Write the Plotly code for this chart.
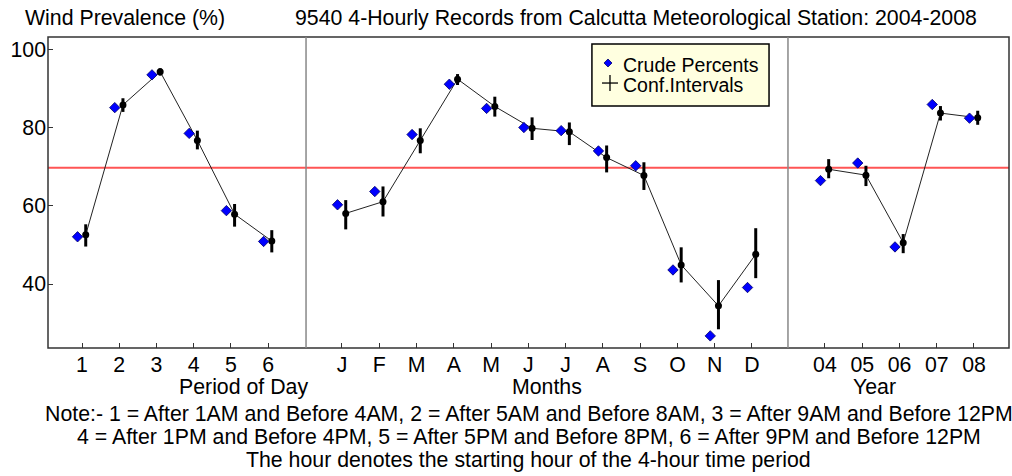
import plotly.graph_objects as go

# ---------------- data ----------------
period_labels = ["1", "2", "3", "4", "5", "6"]
period_crude = [52.1, 85.2, 93.6, 78.6, 58.8, 50.9]
period_ci_mid = [52.6, 85.9, 94.4, 76.8, 57.9, 51.0]
period_ci_lo = [49.6, 84.1, 93.4, 74.5, 54.7, 48.1]
period_ci_hi = [55.3, 87.6, 95.3, 79.3, 60.5, 53.8]

month_labels = ["J", "F", "M", "A", "M", "J", "J", "A", "S", "O", "N", "D"]
month_crude = [60.3, 63.7, 78.3, 91.2, 85.0, 80.1, 79.3, 74.1, 70.3, 43.6, 26.7, 39.1]
month_ci_mid = [58.1, 61.1, 76.8, 92.5, 85.5, 79.9, 79.0, 72.4, 67.8, 44.9, 34.4, 47.6]
month_ci_lo = [54.0, 57.3, 73.5, 91.0, 82.9, 76.9, 75.6, 68.6, 64.1, 40.4, 28.4, 41.5]
month_ci_hi = [61.5, 65.0, 79.9, 93.8, 88.0, 82.7, 81.4, 75.5, 71.2, 49.4, 41.0, 54.3]

year_labels = ["04", "05", "06", "07", "08"]
year_crude = [66.5, 71.0, 49.5, 86.0, 82.5]
year_ci_mid = [69.4, 67.9, 50.6, 83.8, 82.6]
year_ci_lo = [67.1, 65.1, 47.9, 81.9, 80.8]
year_ci_hi = [72.0, 70.3, 52.8, 85.6, 84.4]

overall_prevalence = 69.8

axis_titles = ["Period of Day", "Months", "Year"]
legend_labels = ["Crude Percents", "Conf.Intervals"]
title_left = "Wind Prevalence (%)"
title_main = "9540 4-Hourly Records from Calcutta Meteorological Station: 2004-2008"
note_lines = [
    "Note:- 1 = After 1AM and Before 4AM, 2 = After 5AM and Before 8AM, 3 = After 9AM and Before 12PM",
    "4 = After 1PM and Before 4PM, 5 = After 5PM and Before 8PM, 6 = After 9PM and Before 12PM",
    "The hour denotes the starting hour of the 4-hour time period",
]

# ---------------- styling ----------------
FONT = "Liberation Sans, Arial, sans-serif"
FS = 21.3
CRUDE_OFF = -0.12
CI_OFF = 0.10
BLUE = "#0000ff"

panels = [
    (period_labels, period_crude, period_ci_mid, period_ci_lo, period_ci_hi, "x", [0.086, 7.02], [0.0, 0.2685]),
    (month_labels, month_crude, month_ci_mid, month_ci_lo, month_ci_hi, "x2", [0.035, 12.965], [0.2685, 0.7700]),
    (year_labels, year_crude, year_ci_mid, year_ci_lo, year_ci_hi, "x3", [0.007, 5.94], [0.7700, 1.0]),
]

fig = go.Figure()

for labels, crude, mid, lo, hi, xref, rng, dom in panels:
    pos = list(range(1, len(labels) + 1))
    fig.add_trace(go.Scatter(
        x=rng, y=[overall_prevalence, overall_prevalence], xaxis=xref, yaxis="y",
        mode="lines", line=dict(color="#ff5555", width=2), showlegend=False, hoverinfo="skip"))
    fig.add_trace(go.Scatter(
        x=[p + CI_OFF for p in pos], y=mid, xaxis=xref, yaxis="y",
        mode="lines+markers",
        line=dict(color="#222222", width=1),
        marker=dict(color="black", size=7, symbol="circle"),
        error_y=dict(type="data", symmetric=False,
                     array=[h - m for h, m in zip(hi, mid)],
                     arrayminus=[m - l for m, l in zip(mid, lo)],
                     color="black", thickness=3, width=0),
        showlegend=False))
    fig.add_trace(go.Scatter(
        x=[p + CRUDE_OFF for p in pos], y=crude, xaxis=xref, yaxis="y",
        mode="markers",
        marker=dict(color=BLUE, size=8, symbol="diamond",
                    line=dict(color="#000066", width=0.8)),
        showlegend=False))

axis_common = dict(showgrid=False, zeroline=False, showline=False,
                   ticks="inside", ticklen=5, tickcolor="#333333", tickwidth=1,
                   tickfont=dict(family=FONT, size=FS, color="black"), fixedrange=True)

layout = dict(
    width=1012, height=476,
    margin=dict(l=48, r=3, t=37, b=128, autoexpand=False),
    paper_bgcolor="white", plot_bgcolor="white",
    font=dict(family=FONT, size=FS, color="black"),
    showlegend=False,
    yaxis=dict(range=[23.6, 103.3], tickvals=[40, 60, 80, 100], ticklabelstandoff=1, **axis_common),
)
for labels, crude, mid, lo, hi, xref, rng, dom in panels:
    key = "xaxis" if xref == "x" else "xaxis" + xref[1:]
    layout[key] = dict(domain=dom, range=rng, anchor="y",
                       tickvals=list(range(1, len(labels) + 1)), ticktext=labels,
                       ticklabelstandoff=2, **axis_common)
fig.update_layout(**layout)

# frame and panel dividers
fig.add_shape(type="rect", xref="paper", yref="paper", x0=0, y0=0, x1=1, y1=1,
              line=dict(color="#333333", width=1.5), layer="above")
for d in [panels[1][7][0], panels[2][7][0]]:
    fig.add_shape(type="line", xref="paper", yref="paper", x0=d, x1=d, y0=0, y1=1,
                  line=dict(color="#888888", width=1.5), layer="above")

# legend box (key)
fig.add_shape(type="rect", xref="paper", yref="paper", x0=0.566, x1=0.7503, y0=0.778, y1=0.9775,
              fillcolor="#ffffe0", line=dict(color="black", width=1.5), layer="above")
fig.add_shape(type="path", xref="paper", yref="paper", xsizemode="pixel", ysizemode="pixel",
              xanchor=0.5827, yanchor=0.9164, path="M 0 4 L 4 0 L 0 -4 L -4 0 Z",
              fillcolor=BLUE, line=dict(color="#000066", width=0.8), layer="above")
fig.add_shape(type="line", xref="paper", yref="paper", xsizemode="pixel", ysizemode="pixel",
              xanchor=0.5848, yanchor=0.852, x0=-8, x1=8, y0=0, y1=0,
              line=dict(color="black", width=1.3), layer="above")
fig.add_shape(type="line", xref="paper", yref="paper", xsizemode="pixel", ysizemode="pixel",
              xanchor=0.5848, yanchor=0.852, x0=0, x1=0, y0=-8, y1=8,
              line=dict(color="black", width=1.3), layer="above")
for lbl, yy in zip(legend_labels, [0.9084, 0.8441]):
    fig.add_annotation(text=lbl, xref="paper", yref="paper", x=0.5963, y=yy,
                       xanchor="left", yanchor="middle", showarrow=False,
                       font=dict(family=FONT, size=19.5, color="black"))

# axis titles
for (labels, crude, mid, lo, hi, xref, rng, dom), t in zip(panels, axis_titles):
    fig.add_annotation(text=t, xref="paper", yref="paper", x=(dom[0] + dom[1]) / 2, y=0,
                       yanchor="middle", yshift=-39, showarrow=False,
                       font=dict(family=FONT, size=FS, color="black"))

# notes
for i, line in enumerate(note_lines):
    fig.add_annotation(text=line, xref="paper", yref="paper", x=0.5, y=0,
                       yanchor="middle", yshift=-66 - 23 * i, showarrow=False,
                       font=dict(family=FONT, size=FS, color="black"))

# titles
fig.add_annotation(text=title_left, xref="paper", yref="paper", x=0, xshift=-25, y=1,
                   xanchor="left", yanchor="middle", yshift=19, showarrow=False,
                   font=dict(family=FONT, size=FS, color="black"))
fig.add_annotation(text=title_main, xref="paper", yref="paper", x=0.612, y=1,
                   xanchor="center", yanchor="middle", yshift=19, showarrow=False,
                   font=dict(family=FONT, size=FS, color="black"))

fig.write_html("out.html", config={"displayModeBar": False},
               post_script="document.body.style.margin='0px';document.body.style.overflow='hidden';")
